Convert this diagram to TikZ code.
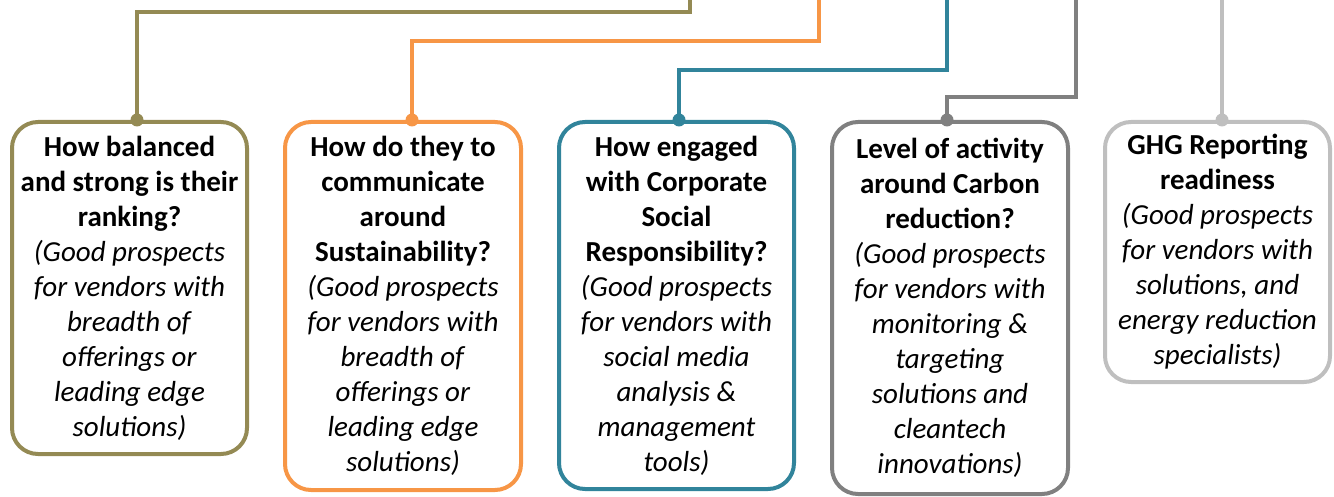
\documentclass[tikz,border=0pt]{standalone}
\usepackage{fontspec}
\setmainfont{Carlito}
\definecolor{cOlive}{RGB}{148,138,84}
\definecolor{cOrange}{RGB}{247,150,70}
\definecolor{cTeal}{RGB}{49,132,155}
\definecolor{cGray}{RGB}{128,128,128}
\definecolor{cLight}{RGB}{191,191,191}
\begin{document}
\begin{tikzpicture}[x=1pt,y=-1pt,
  qbox/.style={draw=#1,line width=4pt,rounded corners=26pt,fill=white,
    align=center,inner sep=0pt,anchor=north,
    font=\fontsize{29}{35}\selectfont},
  link/.style={draw=#1,line width=4pt},
  knob/.style={circle,fill=#1,inner sep=0pt,minimum size=13pt},
]
\useasboundingbox (0,0) rectangle (1334,497);

\node[qbox=cOlive,minimum width=235pt,minimum height=332pt] (b1) at (129.5,120)
 {\textbf{How balanced}\\\textbf{and strong is their}\\\textbf{ranking?}\\\textit{(Good prospects}\\\textit{for vendors with}\\\textit{breadth of}\\\textit{offerings or}\\\textit{leading edge}\\\textit{solutions)}};
\node[qbox=cOrange,minimum width=236pt,minimum height=368pt] (b2) at (403,120)
 {\textbf{How do they to}\\\textbf{communicate}\\\textbf{around}\\\textbf{Sustainability?}\\\textit{(Good prospects}\\\textit{for vendors with}\\\textit{breadth of}\\\textit{offerings or}\\\textit{leading edge}\\\textit{solutions)}};
\node[qbox=cTeal,minimum width=235pt,minimum height=367pt] (b3) at (676.5,120)
 {\textbf{How engaged}\\\textbf{with Corporate}\\\textbf{Social}\\\textbf{Responsibility?}\\\textit{(Good prospects}\\\textit{for vendors with}\\\textit{social media}\\\textit{analysis \&}\\\textit{management}\\\textit{tools)}};
\node[qbox=cGray,minimum width=236pt,minimum height=372pt] (b4) at (950,120)
 {\textbf{Level of activity}\\\textbf{around Carbon}\\\textbf{reduction?}\\\textit{(Good prospects}\\\textit{for vendors with}\\\textit{monitoring \&}\\\textit{targeting}\\\textit{solutions and}\\\textit{cleantech}\\\textit{innovations)}};
\node[qbox=cLight,minimum width=225pt,minimum height=260pt] (b5) at (1217.5,120)
 {\textbf{GHG Reporting}\\\textbf{readiness}\\\textit{(Good prospects}\\\textit{for vendors with}\\\textit{solutions, and}\\\textit{energy reduction}\\\textit{specialists)}};

\node[knob=cOlive] (d1) at (137,120) {};
\node[knob=cOrange] (d2) at (412,120) {};
\node[knob=cTeal] (d3) at (679,120) {};
\node[knob=cGray] (d4) at (947,120) {};
\node[knob=cLight] (d5) at (1222,120) {};

\coordinate (j1) at (690,12);   \coordinate (t1) at (690,-4);
\coordinate (j2) at (819,41);   \coordinate (t2) at (819,-4);
\coordinate (j3) at (947,70);   \coordinate (t3) at (947,-4);
\coordinate (j4) at (1076,97);  \coordinate (t4) at (1076,-4);
\coordinate (t5) at (1222,-4);

\draw[link=cOlive] (d1.center) |- (j1) -- (t1);
\draw[link=cOrange] (d2.center) |- (j2) -- (t2);
\draw[link=cTeal] (d3.center) |- (j3) -- (t3);
\draw[link=cGray] (d4.center) |- (j4) -- (t4);
\draw[link=cLight] (d5.center) -- (t5);
\end{tikzpicture}
\end{document}
